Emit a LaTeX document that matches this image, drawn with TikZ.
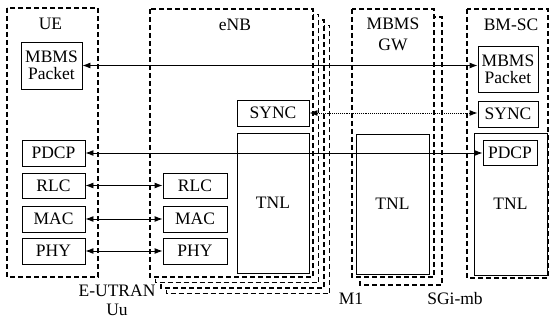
\documentclass[tikz,border=0pt]{standalone}
\usepackage{fontspec}
\setmainfont{Liberation Serif}
\usetikzlibrary{positioning}
\usetikzlibrary{arrows.meta}

\begin{document}
\begin{tikzpicture}[x=1pt,y=-1pt]
    \tikzset{
    layer/.style={
        draw,
        line width=0.9pt,
        minimum height=25pt,
        inner sep=0pt,
        align=center,
        font=\fontsize{17.5}{17}\selectfont
    },
    group/.style={
        draw,
        line width=1.5pt,
        dash pattern=on 5pt off 3pt,
        fill=white
    },
    link/.style={
        line width=0.9pt,
        {Latex[length=8pt,width=6pt]}-{Latex[length=8pt,width=6pt]}
    },
    tag/.style={
        font=\fontsize{17.5}{19}\selectfont,
        align=center,
        inner sep=0pt
    }
}
        \useasboundingbox (0,0) rectangle (551,320);

        \draw[group] (7,8) rectangle (98,277);
        \foreach \d in {16.5,11,5.5,0}
            \draw[group] (150+\d,9+\d) rectangle (313+\d,277+\d);
        \draw[group] (360,17) rectangle (442,285);
        \draw[group] (352,9) rectangle (434,277);
        \draw[group] (467,9) rectangle (548,278);

        \node[tag] (UE) at (50.5,24) {UE};
        \node[tag] (eNB) at (235,25) {eNB};
        \node[tag, font=\fontsize{17.5}{21}\selectfont] (GW) at (393,34) {MBMS\\GW};
        \node[tag] (BMSC) at (511,25) {BM-SC};

        \node[layer, minimum width=61pt, minimum height=47pt] (uePacket) at (51.5,65.5) {MBMS\\Packet};
        \node[layer, minimum width=63pt, minimum height=26pt] (uePdcp) at (53.5,153) {PDCP};
        \node[layer, minimum width=63pt] (ueRlc) at (53.5,185.5) {RLC};
        \node[layer, minimum width=63pt, minimum height=26pt] (ueMac) at (53.5,219) {MAC};
        \node[layer, minimum width=63pt, minimum height=26pt] (uePhy) at (53.5,251) {PHY};

        \node[layer, minimum width=64pt] (enbRlc) at (195,185.5) {RLC};
        \node[layer, minimum width=64pt, minimum height=26pt] (enbMac) at (195,219) {MAC};
        \node[layer, minimum width=64pt, minimum height=26pt] (enbPhy) at (195,251) {PHY};
        \node[layer, minimum width=72pt, minimum height=26pt] (enbSync) at (273,113) {SYNC};
        \node[layer, minimum width=72pt, minimum height=140pt] (enbTnl) at (273,203) {TNL};

        \node[layer, minimum width=73pt, minimum height=140pt] (gwTnl) at (392.5,204) {TNL};

        \node[layer, minimum width=60pt, minimum height=46pt] (bmPacket) at (508,69) {MBMS\\Packet};
        \node[layer, minimum width=60pt, minimum height=26pt] (bmSync) at (508,114) {SYNC};
        \node[layer, minimum width=73pt, minimum height=142pt] (bmTnl) at (510.5,204) {TNL};
        \node[layer, minimum width=54pt] (bmPdcp) at (510,152.5) {PDCP};

        \draw[link] (uePacket.east) -- (uePacket.east -| bmPacket.west);
        \draw[link, densely dotted] (enbSync.east) -- (enbSync.east -| bmSync.west);
        \draw[link] (uePdcp.east) -- (uePdcp.east -| bmPdcp.west);
        \draw[link] (ueRlc) -- (enbRlc);
        \draw[link] (ueMac) -- (enbMac);
        \draw[link] (uePhy) -- (enbPhy);

        \node[tag] (Uu) at (117,300) {E-UTRAN\\Uu};
        \node[tag] (M1) at (351,299) {M1};
        \node[tag] (SGi) at (455,299) {SGi-mb};
    \end{tikzpicture}
\end{document}
